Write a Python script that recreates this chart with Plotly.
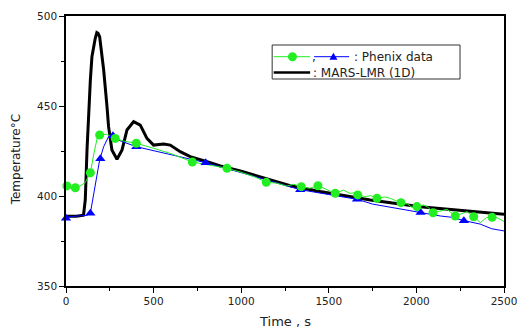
import plotly.graph_objects as go

# ---------------- data ----------------
# MARS-LMR (1D) calculation
mars_t = [0, 60, 100, 110, 120, 129, 139, 148, 158, 167, 176, 183, 192, 200, 215, 234, 243,
          262, 291, 320, 348, 386, 424, 462, 500, 557, 595, 652, 709, 805, 881, 1000, 1147,
          1280, 1450, 1600, 1737, 2022, 2250, 2500]
mars_T = [388.8, 388.8, 389.3, 397.8, 425.6, 448.7, 464.4, 477.4, 484.0, 487.6, 490.8, 490.4,
          488.5, 483.0, 470.0, 449.6, 438.5, 425.6, 420.4, 425.6, 436.7, 441.3, 439.4, 432.0,
          428.3, 428.9, 428.3, 424.6, 421.9, 419.1, 416.7, 413.8, 409.5, 405.7, 402.5, 400.0,
          397.8, 394.0, 391.8, 389.8]

# Phenix data, set 1 (green) - full trace
ph1_t = [0, 6, 30, 53, 80, 110, 139, 160, 180, 192, 230, 260, 281, 330, 401, 500, 600, 721,
         800, 919, 1000, 1080, 1143, 1200, 1260, 1300, 1343, 1390, 1438, 1490, 1537, 1583,
         1620, 1665, 1700, 1740, 1775, 1820, 1851, 1880, 1912, 1950, 1975, 2003, 2040, 2064,
         2095, 2130, 2175, 2222, 2260, 2289, 2327, 2365, 2400, 2432, 2470, 2500]
ph1_T = [407.4, 405.6, 404.0, 404.6, 405.5, 407.5, 412.9, 424.0, 433.0, 433.9, 434.3, 433.0,
         432.0, 430.5, 429.3, 426.5, 423.5, 418.9, 417.5, 415.4, 413.2, 410.5, 407.6, 407.2,
         405.5, 406.5, 405.2, 404.3, 405.7, 403.5, 401.5, 403.3, 401.5, 401.9, 399.5, 400.2,
         398.7, 399.5, 398.7, 397.5, 396.3, 395.5, 393.7, 394.1, 395.0, 394.0, 390.7, 391.5,
         392.6, 388.9, 390.5, 391.3, 388.5, 385.2, 388.0, 388.6, 387.5, 385.8]
# Phenix data, set 1 - marker points
ph1_mk_t = [5, 53, 139, 192, 281, 401, 721, 919, 1143, 1343, 1438, 1537, 1665, 1775, 1912,
            2003, 2095, 2222, 2327, 2432]
ph1_mk_T = [405.6, 404.6, 412.9, 433.9, 432.0, 429.3, 418.9, 415.4, 407.6, 405.2, 405.7,
            401.5, 400.6, 398.7, 396.3, 394.1, 390.7, 388.9, 388.5, 388.2]

# Phenix data, set 2 (blue) - full trace
ph2_t = [0, 60, 120, 139, 158, 192, 215, 243, 268, 300, 401, 600, 797, 1000, 1200, 1337,
         1500, 1661, 1750, 1851, 1950, 2026, 2136, 2200, 2273, 2364, 2430, 2500]
ph2_T = [388.3, 388.8, 389.3, 390.4, 401.5, 420.0, 427.4, 433.0, 433.5, 431.0, 427.4, 423.0,
         418.5, 413.0, 407.5, 403.5, 400.8, 398.2, 395.5, 393.7, 392.0, 390.8, 388.9, 388.2,
         386.3, 384.4, 381.8, 380.6]
# Phenix data, set 2 - marker points
ph2_mk_t = [0, 139, 196, 268, 401, 797, 1337, 1661, 2024, 2271]
ph2_mk_T = [387.6, 390.4, 420.7, 433.5, 427.4, 418.5, 403.5, 398.2, 390.8, 386.3]

x_ticks = [0, 500, 1000, 1500, 2000, 2500]
y_ticks = [350, 400, 450, 500]

legend_row1 = ": Phenix data"
legend_row2 = ": MARS-LMR (1D)"
x_title = "Time , s"
y_title = "Temperature°C"

GREEN = "#22ee22"
BLUE = "#0000ff"
BLACK = "#000000"

fig = go.Figure()
fig.add_trace(go.Scatter(x=mars_t, y=mars_T, mode="lines",
                         line=dict(color=BLACK, width=3), showlegend=False))
fig.add_trace(go.Scatter(x=ph2_t, y=ph2_T, mode="lines",
                         line=dict(color=BLUE, width=1), showlegend=False))
fig.add_trace(go.Scatter(x=ph1_t, y=ph1_T, mode="lines",
                         line=dict(color=GREEN, width=1), showlegend=False))
fig.add_trace(go.Scatter(x=ph2_mk_t, y=ph2_mk_T, mode="markers", cliponaxis=False,
                         marker=dict(symbol="triangle-up", size=9, color=BLUE),
                         showlegend=False))
fig.add_trace(go.Scatter(x=ph1_mk_t, y=ph1_mk_T, mode="markers", cliponaxis=False,
                         marker=dict(symbol="circle", size=9, color=GREEN),
                         showlegend=False))

tickfont = dict(family="DejaVu Sans", size=10.5, color="#222")
axis_common = dict(showgrid=False, zeroline=False, showline=True, linecolor="black",
                   linewidth=1.5, mirror=True, ticks="outside", ticklen=5, tickwidth=1,
                   tickcolor="black", tickfont=tickfont, automargin=False,
                   ticklabeloverflow="allow")
fig.update_xaxes(range=[0, 2500], tickvals=x_ticks,
                 minor=dict(ticks="outside", dtick=250, ticklen=3, tickcolor="black"),
                 **axis_common)
fig.update_yaxes(range=[350, 500], tickvals=y_ticks,
                 minor=dict(ticks="outside", dtick=25, ticklen=3, tickcolor="black"),
                 **axis_common)

# ---- legend drawn as a box with line samples ----
def px2x(p):
    return (p - 65.7) / 438.3

def py2y(p):
    return (286 - p) / 270.0

shapes = []
shapes.append(dict(type="rect", xref="paper", yref="paper", x0=px2x(272), x1=px2x(460),
                   y0=py2y(79), y1=py2y(45), line=dict(color="#333", width=1),
                   fillcolor="white"))
r1 = py2y(56.7)
r2 = py2y(72.5)
shapes.append(dict(type="line", xref="paper", yref="paper", x0=px2x(273.5), x1=px2x(310),
                   y0=r1, y1=r1, line=dict(color=GREEN, width=1)))
shapes.append(dict(type="circle", xref="paper", yref="paper", xsizemode="pixel",
                   ysizemode="pixel", xanchor=px2x(292.3), yanchor=r1, x0=-4.5, x1=4.5,
                   y0=-4.5, y1=4.5, fillcolor=GREEN, line=dict(color=GREEN, width=0)))
shapes.append(dict(type="line", xref="paper", yref="paper", x0=px2x(314), x1=px2x(349),
                   y0=r1, y1=r1, line=dict(color=BLUE, width=1)))
shapes.append(dict(type="path", xref="paper", yref="paper", xsizemode="pixel",
                   ysizemode="pixel", xanchor=px2x(333.3), yanchor=r1,
                   path="M -4,-3 L 4,-3 L 0,4 Z", fillcolor=BLUE,
                   line=dict(color=BLUE, width=0)))
shapes.append(dict(type="line", xref="paper", yref="paper", x0=px2x(273.5), x1=px2x(310),
                   y0=r2, y1=r2, line=dict(color=BLACK, width=2.5)))

legfont = dict(family="DejaVu Sans", size=12, color="#222")
annotations = [
    dict(x=px2x(309.5), y=r1, xref="paper", yref="paper", text=",", showarrow=False,
         xanchor="left", yanchor="middle", font=legfont),
    dict(x=px2x(352), y=r1, xref="paper", yref="paper", text=legend_row1, showarrow=False,
         xanchor="left", yanchor="middle", font=legfont),
    dict(x=px2x(311), y=r2, xref="paper", yref="paper", text=legend_row2, showarrow=False,
         xanchor="left", yanchor="middle", font=legfont),
    dict(x=px2x(285), y=py2y(321), xref="paper", yref="paper", text=x_title,
         showarrow=False, xanchor="center", yanchor="middle",
         font=dict(family="DejaVu Sans", size=13, color="#222")),
    dict(x=px2x(16), y=py2y(160), xref="paper", yref="paper", text=y_title,
         showarrow=False, xanchor="center", yanchor="middle", textangle=-90,
         font=dict(family="DejaVu Sans", size=12, color="#222")),
]

fig.update_layout(width=517, height=329, margin=dict(l=66, r=13, t=16, b=43),
                  paper_bgcolor="white", plot_bgcolor="white", shapes=shapes,
                  annotations=annotations, showlegend=False)

fig.write_html("out.html", config={"displayModeBar": False},
               post_script="document.body.style.margin='0';document.body.style.padding='0';")
